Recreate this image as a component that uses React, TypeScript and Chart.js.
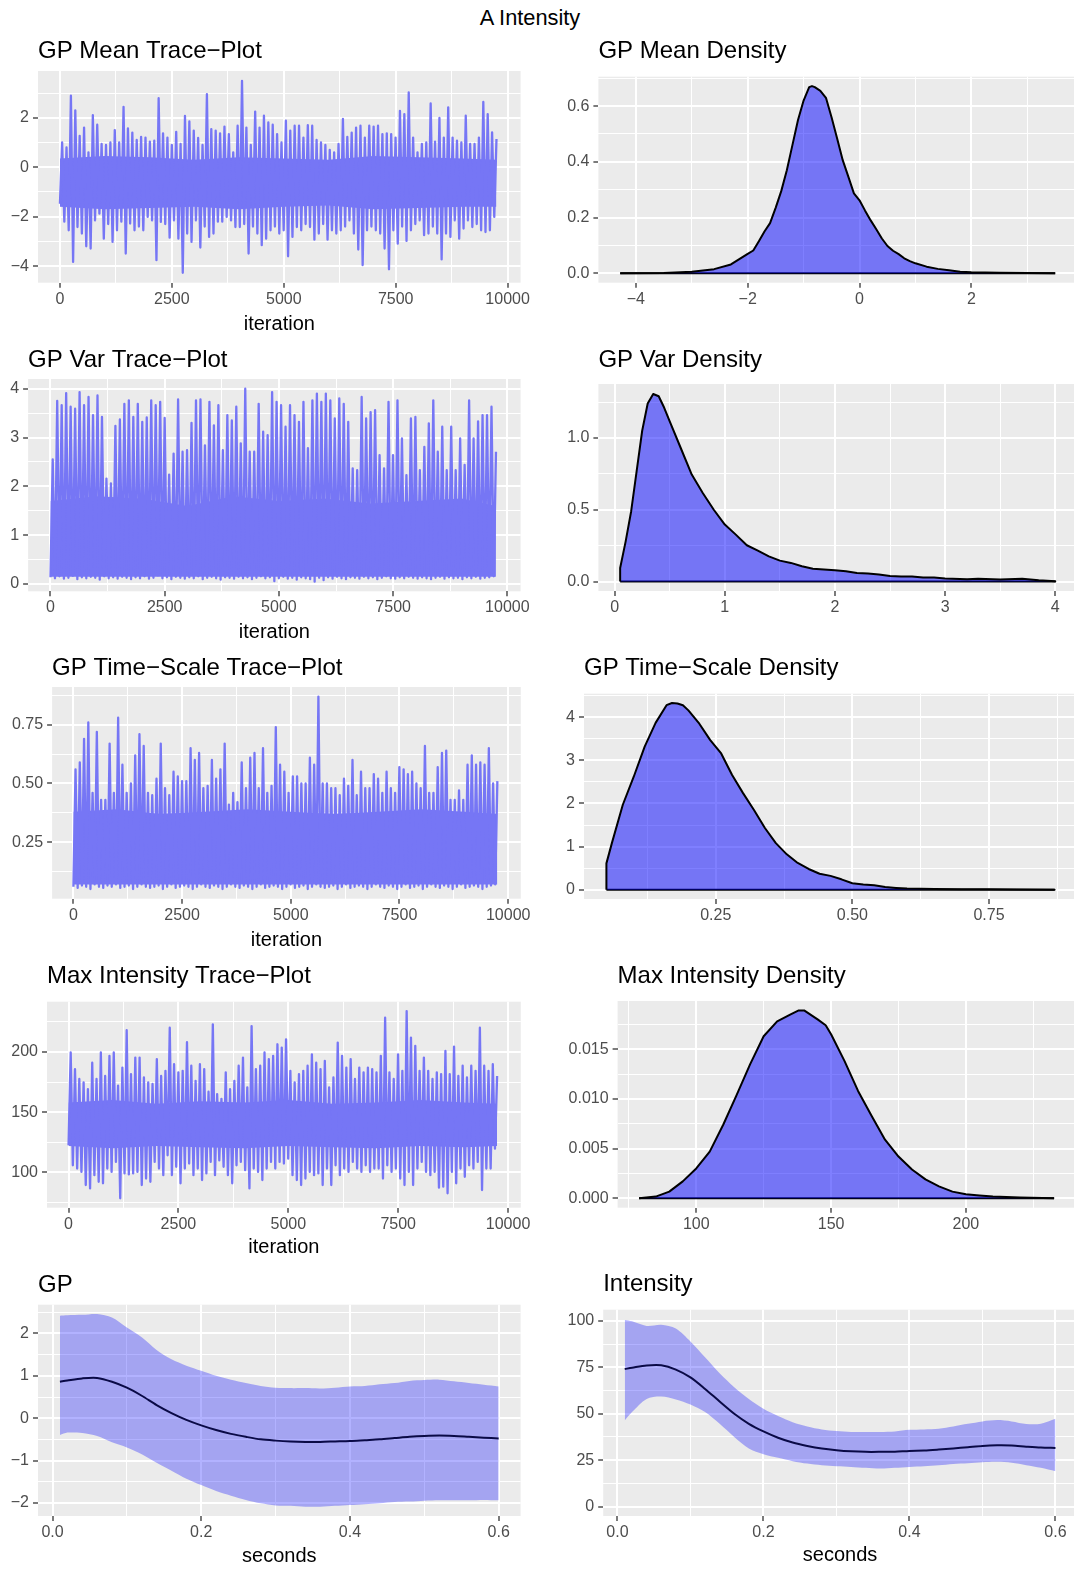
import React, { useEffect, useRef } from "react";
import { Chart, registerables } from "chart.js";

Chart.register(...registerables);

const FONT_FAMILY = '"Liberation Sans", Arial, Helvetica, sans-serif';
const TICK_TEXT = "#4D4D4D";
const PANEL_BG = "#EBEBEB";
const HALF_BLUE = "rgba(0,0,255,0.5)";
const TRACE_BLUE = "#7676F5"; // half-transparent blue as it lands on the grey panel
const RIBBON_BLUE = "rgba(0,0,255,0.3)";
const MEAN_LINE = "#0A0A46";
const MINUS = "\u2212";

// MCMC chains are summarised per window of ITER_STEP iterations: lowest and highest draw.
const ITER_STEP = 98;

const gpMeanHigh = [1.0, 0.8, 2.89, 2.3, 1.27, 1.6, 0.6, 2.1, 1.72, 0.94,
  0.9, 1.0, 1.5, 1.0, 2.44, 1.57, 1.4, 1.1, 1.23, 1.2,
  1.03, 1.07, 2.79, 1.37, 1.2, 0.9, 1.43, 0.94, 2.07, 1.85,
  1.48, 1.18, 0.9, 2.95, 1.54, 1.48, 1.37, 1.64, 1.34, 0.6,
  1.68, 3.49, 1.6, 0.9, 2.25, 1.6, 2.08, 1.81, 1.72, 1.34,
  1.0, 1.88, 1.48, 1.68, 1.68, 1.2, 1.7, 1.68, 1.1, 1.0,
  0.9, 0.7, 0.6, 0.94, 1.95, 1.23, 1.4, 1.6, 1.68, 1.2,
  1.68, 1.64, 1.68, 1.34, 1.37, 1.34, 1.2, 2.28, 2.15, 3.02,
  1.2, 0.6, 0.94, 1.0, 2.58, 1.03, 1.99, 1.2, 2.42, 1.2,
  1.07, 1.0, 2.08, 0.94, 0.94, 1.2, 2.64, 2.15, 1.41, 1.14];
const gpMeanLow = [-1.48, -2.2, -2.55, -3.83, -2.42, -2.68, -3.2, -3.29, -2.15, -1.88,
  -2.89, -2.3, -3.02, -2.55, -2.2, -3.49, -2.28, -2.55, -2.4, -2.55,
  -2.01, -2.15, -3.76, -2.21, -2.3, -2.85, -2.15, -2.89, -4.27, -2.68,
  -3.02, -2.15, -3.25, -2.4, -2.82, -2.68, -2.2, -2.2, -2.01, -2.15,
  -2.42, -2.42, -2.3, -3.49, -2.4, -2.68, -3.15, -2.89, -2.55, -2.4,
  -2.68, -2.55, -3.6, -2.82, -2.42, -2.55, -2.3, -2.42, -2.93, -2.68,
  -2.3, -2.93, -2.55, -2.68, -2.55, -2.4, -2.15, -2.68, -3.33, -3.96,
  -2.55, -2.4, -2.55, -2.68, -3.29, -4.13, -2.55, -3.09, -2.4, -2.98,
  -2.55, -2.3, -2.15, -2.75, -2.68, -2.4, -2.68, -3.73, -2.68, -2.82,
  -2.15, -2.89, -2.48, -2.15, -2.42, -2.3, -2.55, -2.62, -2.55, -2.01];

const gpVarHigh = [2.55, 3.75, 3.66, 3.91, 3.63, 3.59, 3.93, 3.66, 3.83, 3.46,
  3.86, 3.42, 2.16, 2.06, 3.24, 3.37, 3.69, 3.76, 3.42, 3.69,
  3.32, 3.41, 3.76, 3.66, 3.73, 3.4, 2.24, 2.67, 3.78, 2.71,
  2.74, 3.3, 3.76, 3.78, 2.84, 3.73, 3.25, 3.66, 2.74, 3.46,
  3.35, 3.63, 2.88, 4.0, 2.71, 2.71, 3.69, 3.12, 3.05, 3.93,
  3.73, 3.66, 3.22, 3.66, 3.46, 3.32, 3.73, 2.78, 3.76, 3.9,
  3.73, 3.9, 3.76, 3.39, 3.8, 3.69, 3.32, 2.37, 2.33, 3.83,
  3.39, 3.52, 3.56, 2.64, 2.37, 3.73, 2.64, 3.76, 2.98, 2.23,
  3.39, 3.42, 2.33, 2.81, 3.29, 3.76, 2.71, 3.22, 2.33, 3.22,
  2.33, 2.98, 2.44, 3.76, 2.98, 3.33, 3.46, 3.46, 3.63, 2.71];
const gpVarLow = [0.14, 0.12, 0.16, 0.11, 0.13, 0.17, 0.1, 0.14, 0.12, 0.15,
  0.13, 0.09, 0.16, 0.12, 0.14, 0.11, 0.15, 0.13, 0.1, 0.14,
  0.12, 0.16, 0.11, 0.13, 0.18, 0.12, 0.14, 0.1, 0.15, 0.13,
  0.11, 0.14, 0.12, 0.16, 0.1, 0.13, 0.15, 0.12, 0.09, 0.14,
  0.13, 0.11, 0.15, 0.12, 0.14, 0.1, 0.13, 0.16, 0.12, 0.14,
  0.06, 0.12, 0.15, 0.11, 0.13, 0.09, 0.14, 0.12, 0.1, 0.05,
  0.13, 0.08, 0.14, 0.11, 0.15, 0.12, 0.1, 0.14, 0.13, 0.11,
  0.15, 0.12, 0.14, 0.1, 0.13, 0.16, 0.12, 0.11, 0.14, 0.12,
  0.15, 0.13, 0.11, 0.14, 0.12, 0.1, 0.13, 0.15, 0.11, 0.14,
  0.12, 0.13, 0.1, 0.14, 0.12, 0.15, 0.11, 0.13, 0.14, 0.16];

const timeScaleHigh = [0.56, 0.59, 0.69, 0.76, 0.46, 0.72, 0.43, 0.43, 0.67, 0.46,
  0.78, 0.58, 0.46, 0.5, 0.62, 0.71, 0.66, 0.46, 0.45, 0.52,
  0.67, 0.48, 0.45, 0.55, 0.53, 0.51, 0.51, 0.65, 0.6, 0.63,
  0.48, 0.49, 0.6, 0.52, 0.56, 0.67, 0.41, 0.46, 0.42, 0.59,
  0.48, 0.61, 0.63, 0.48, 0.65, 0.46, 0.49, 0.74, 0.58, 0.55,
  0.46, 0.53, 0.53, 0.5, 0.5, 0.61, 0.58, 0.87, 0.5, 0.5,
  0.48, 0.48, 0.45, 0.52, 0.49, 0.6, 0.45, 0.55, 0.48, 0.48,
  0.54, 0.52, 0.46, 0.55, 0.48, 0.46, 0.57, 0.56, 0.54, 0.55,
  0.5, 0.48, 0.66, 0.46, 0.46, 0.57, 0.63, 0.64, 0.43, 0.43,
  0.47, 0.43, 0.58, 0.62, 0.58, 0.59, 0.58, 0.65, 0.5, 0.51];
const timeScaleLow = [0.06, 0.055, 0.065, 0.06, 0.05, 0.07, 0.06, 0.055, 0.065, 0.06,
  0.07, 0.055, 0.06, 0.065, 0.05, 0.06, 0.07, 0.06, 0.055, 0.06,
  0.065, 0.05, 0.06, 0.07, 0.055, 0.06, 0.065, 0.06, 0.05, 0.06,
  0.07, 0.06, 0.055, 0.065, 0.06, 0.05, 0.06, 0.07, 0.06, 0.055,
  0.065, 0.06, 0.05, 0.06, 0.07, 0.055, 0.06, 0.065, 0.06, 0.05,
  0.06, 0.07, 0.055, 0.06, 0.065, 0.05, 0.06, 0.07, 0.06, 0.055,
  0.06, 0.065, 0.05, 0.06, 0.07, 0.055, 0.06, 0.065, 0.06, 0.05,
  0.06, 0.07, 0.06, 0.055, 0.065, 0.06, 0.05, 0.06, 0.07, 0.055,
  0.06, 0.065, 0.05, 0.06, 0.07, 0.06, 0.055, 0.065, 0.06, 0.05,
  0.06, 0.07, 0.055, 0.06, 0.065, 0.06, 0.05, 0.06, 0.065, 0.07];

const maxIntHigh = [199.5, 185.7, 177.5, 174.7, 169, 191, 177.5, 199.5, 180, 196.7,
  199.5, 172, 187, 218, 181.6, 195.3, 195.3, 178.8, 174.7, 173.4,
  194, 180, 184.3, 220, 189.8, 183, 184.3, 208, 188.5, 176,
  189.8, 185.7, 167, 222.8, 165, 161, 183, 169, 176, 188.5,
  195.3, 170.6, 221.4, 185.7, 188.5, 199.5, 194, 196.7, 206.3, 203.6,
  210.4, 184.3, 174.7, 181.6, 184.3, 188.5, 198, 191, 185.7, 192.6,
  170.6, 178.8, 207.7, 196.7, 187, 194, 177.5, 187, 183, 187,
  185.7, 183, 196.7, 228.3, 183, 177.5, 198, 184.3, 233.8, 211.8,
  205, 184.3, 195.3, 184.3, 177.5, 183, 181.6, 200.8, 181.6, 204.4,
  180, 188.5, 178.8, 188.5, 184.3, 220, 188.5, 184.3, 189.8, 180];
const maxIntLow = [122.5, 106, 103.3, 100.5, 89.6, 86.8, 97.8, 92.3, 91, 103.3,
  100.5, 108.8, 78.6, 99.2, 98.4, 99.2, 100.5, 89.6, 95, 92.3,
  108.8, 103.3, 97.8, 114.3, 97.8, 104.7, 91, 103.3, 107.4, 97.8,
  103.3, 93.7, 99.2, 108.8, 97.8, 110, 104.7, 97.8, 91, 106,
  108.8, 101.9, 86.8, 103.3, 100.5, 93.7, 103.3, 108.8, 103.3, 108.8,
  107.4, 111.5, 97.8, 93.7, 89.6, 95, 100.5, 97.8, 99.2, 89.6,
  103.3, 89.6, 106, 97.8, 103.3, 100.5, 108.8, 103.3, 100.5, 106,
  100.5, 103.3, 103.3, 95, 106, 100.5, 103.3, 95, 89.6, 100.5,
  89.6, 103.3, 108.8, 100.5, 97.8, 100.5, 87.4, 88.2, 82.7, 100.5,
  91, 103.3, 96.4, 106, 103.3, 108.8, 85.4, 103.3, 103.3, 119.8];

// Dense central band of each chain (where the draws overlap into a solid body)
const coreIter = [0, 1000, 2000, 3000, 4000, 5000, 6000, 7000, 8000, 9000, 9750];
const gpMeanCoreHigh = [0.35, 0.45, 0.4, 0.3, 0.4, 0.35, 0.3, 0.45, 0.4, 0.35, 0.3];
const gpMeanCoreLow = [-1.6, -1.7, -1.65, -1.6, -1.7, -1.6, -1.55, -1.7, -1.65, -1.6, -1.6];
const gpVarCoreHigh = [1.7, 1.8, 1.75, 1.6, 1.8, 1.7, 1.75, 1.65, 1.7, 1.75, 1.6];
const gpVarCoreLow = [0.15, 0.15, 0.15, 0.15, 0.15, 0.15, 0.15, 0.15, 0.15, 0.15, 0.15];
const timeScaleCoreHigh = [0.38, 0.39, 0.37, 0.38, 0.39, 0.38, 0.37, 0.38, 0.39, 0.38, 0.37];
const timeScaleCoreLow = [0.07, 0.07, 0.07, 0.07, 0.07, 0.07, 0.07, 0.07, 0.07, 0.07, 0.07];
const maxIntCoreHigh = [158, 160, 157, 159, 158, 160, 157, 158, 160, 158, 157];
const maxIntCoreLow = [122, 120, 122, 121, 120, 122, 121, 120, 122, 121, 122];

// Kernel density estimates of the posterior draws
const gpMeanDensX = [-4.28, -3.5, -3.0, -2.6, -2.3, -2.0, -1.9, -1.8, -1.7, -1.6,
  -1.5, -1.4, -1.3, -1.2, -1.1, -1.0, -0.9, -0.85, -0.8, -0.7,
  -0.6, -0.5, -0.4, -0.3, -0.2, -0.1, 0.0, 0.1, 0.2, 0.3,
  0.4, 0.5, 0.6, 0.7, 0.8, 0.9, 1.0, 1.2, 1.4, 1.6,
  1.8, 2.0, 2.5, 3.0, 3.5];
const gpMeanDensY = [0, 0.001, 0.006, 0.015, 0.032, 0.07, 0.082, 0.115, 0.15, 0.18,
  0.235, 0.295, 0.37, 0.46, 0.55, 0.62, 0.668, 0.672, 0.668, 0.655,
  0.63, 0.56, 0.484, 0.406, 0.347, 0.287, 0.262, 0.225, 0.19, 0.158,
  0.125, 0.098, 0.081, 0.069, 0.054, 0.044, 0.036, 0.024, 0.016, 0.011,
  0.006, 0.004, 0.0025, 0.001, 0];

const gpVarDensX = [0.05, 0.1, 0.15, 0.2, 0.25, 0.3, 0.35, 0.4, 0.45, 0.5,
  0.6, 0.7, 0.8, 0.9, 1.0, 1.1, 1.2, 1.3, 1.4, 1.5,
  1.6, 1.7, 1.8, 1.9, 2.0, 2.1, 2.2, 2.3, 2.4, 2.5,
  2.6, 2.7, 2.8, 2.9, 3.0, 3.2, 3.3, 3.5, 3.7, 3.85, 4.0];
const gpVarDensY = [0.095, 0.28, 0.49, 0.77, 1.05, 1.24, 1.306, 1.29, 1.21, 1.116,
  0.93, 0.745, 0.617, 0.5, 0.397, 0.327, 0.253, 0.216, 0.176, 0.146,
  0.13, 0.107, 0.09, 0.084, 0.079, 0.072, 0.06, 0.056, 0.049, 0.039,
  0.035, 0.035, 0.028, 0.028, 0.021, 0.016, 0.02, 0.014, 0.019, 0.009, 0.002];

const timeScaleDensX = [0.05, 0.06, 0.08, 0.1, 0.12, 0.14, 0.16, 0.17, 0.18, 0.19,
  0.2, 0.22, 0.24, 0.26, 0.28, 0.3, 0.32, 0.34, 0.36, 0.38,
  0.4, 0.42, 0.44, 0.46, 0.48, 0.5, 0.52, 0.54, 0.56, 0.58,
  0.6, 0.65, 0.7, 0.75, 0.8, 0.87];
const timeScaleDensY = [0.61, 1.08, 1.97, 2.62, 3.32, 3.87, 4.28, 4.33, 4.32, 4.28,
  4.16, 3.85, 3.47, 3.16, 2.66, 2.24, 1.85, 1.43, 1.08, 0.82,
  0.62, 0.48, 0.37, 0.32, 0.24, 0.15, 0.12, 0.1, 0.06, 0.04,
  0.025, 0.015, 0.01, 0.008, 0.005, 0.001];

const maxIntDensX = [78.8, 85, 90, 95, 100, 105, 110, 115, 120, 125,
  130, 135, 138, 140, 145, 148, 150, 155, 160, 165,
  170, 175, 180, 185, 190, 195, 200, 205, 210, 220, 232.7];
const maxIntDensY = [0, 0.00017, 0.00067, 0.0017, 0.003, 0.0047, 0.0074, 0.0104, 0.0135, 0.0163,
  0.0178, 0.0185, 0.0189, 0.0189, 0.018, 0.0174, 0.0165, 0.0138, 0.0108, 0.0083,
  0.0059, 0.0042, 0.0029, 0.0019, 0.0012, 0.00067, 0.0004, 0.00027, 0.00017, 0.00007, 0];

// Posterior summaries over time (seconds)
const seconds = [0.01, 0.02, 0.04, 0.06, 0.08, 0.1, 0.12, 0.14, 0.16, 0.18,
  0.2, 0.22, 0.24, 0.26, 0.28, 0.3, 0.32, 0.34, 0.36, 0.38,
  0.4, 0.42, 0.44, 0.46, 0.48, 0.5, 0.52, 0.54, 0.56, 0.58, 0.6];
const gpUpper = [2.42, 2.43, 2.44, 2.46, 2.38, 2.14, 1.91, 1.61, 1.39, 1.24,
  1.12, 1.0, 0.91, 0.83, 0.76, 0.72, 0.71, 0.71, 0.7, 0.72,
  0.75, 0.76, 0.8, 0.83, 0.88, 0.9, 0.91, 0.87, 0.83, 0.79, 0.75];
const gpLower = [-0.4, -0.34, -0.35, -0.42, -0.57, -0.69, -0.85, -1.05, -1.24, -1.43,
  -1.58, -1.72, -1.83, -1.93, -2.01, -2.06, -2.07, -2.09, -2.09, -2.07,
  -2.05, -2.03, -2.01, -1.98, -1.97, -1.95, -1.94, -1.94, -1.94, -1.93, -1.94];
const gpMean = [0.86, 0.89, 0.94, 0.95, 0.86, 0.72, 0.53, 0.31, 0.12, -0.04,
  -0.17, -0.28, -0.37, -0.44, -0.5, -0.53, -0.55, -0.56, -0.56, -0.55,
  -0.54, -0.52, -0.5, -0.47, -0.44, -0.42, -0.41, -0.42, -0.44, -0.46, -0.48];
const intensityUpper = [100.5, 99.8, 97.3, 97.9, 95.9, 88.9, 80.4, 71.8, 64.3, 58.0,
  52.7, 48.8, 45.5, 43.2, 41.6, 40.7, 40.2, 40.2, 40.2, 40.5,
  41.4, 41.6, 42.0, 43.2, 44.6, 45.9, 46.6, 45.9, 44.5, 44.6, 47.3];
const intensityLower = [46.4, 50.9, 58.0, 59.3, 57.7, 55.0, 50.9, 44.6, 37.5, 31.3,
  28.2, 26.3, 24.5, 23.2, 22.3, 21.8, 21.4, 20.9, 20.5, 20.9,
  21.4, 21.8, 22.3, 23.0, 23.4, 23.9, 24.1, 23.6, 22.3, 20.9, 19.1];
const intensityMean = [74.1, 74.8, 76.0, 76.1, 73.8, 69.6, 63.4, 56.6, 50.0, 44.6,
  40.5, 37.1, 34.5, 32.7, 31.3, 30.4, 29.8, 29.5, 29.5, 29.6,
  30.0, 30.2, 30.7, 31.3, 32.0, 32.7, 33.0, 32.9, 32.3, 31.8, 31.6];

// Axis breaks
const iterBreaks = [0, 2500, 5000, 7500, 10000];
const iterMinor = [1250, 3750, 6250, 8750];
const secondsBreaks = [0, 0.2, 0.4, 0.6];
const secondsMinor = [0.1, 0.3, 0.5];

// ---------- helpers ----------
type Pt = { x: number; y: number };
const fmt = (digits: number) => (v: number) => (v < 0 ? MINUS : "") + Math.abs(v).toFixed(digits);

function tracePoints(lows: number[], highs: number[]): Pt[] {
  const pts: Pt[] = [];
  lows.forEach((lo, i) => {
    pts.push({ x: i * ITER_STEP, y: lo });
    pts.push({ x: i * ITER_STEP + ITER_STEP / 2, y: highs[i] });
  });
  return pts;
}

function zip(xs: number[], ys: number[]): Pt[] {
  return xs.map((x, i) => ({ x, y: ys[i] }));
}

function traceDatasets(lows: number[], highs: number[], coreLow: number[], coreHigh: number[]) {
  return [
    {
      data: tracePoints(lows, highs),
      borderColor: TRACE_BLUE,
      borderWidth: 2.3,
      borderJoinStyle: "round",
      pointRadius: 0,
      tension: 0,
      fill: false,
    },
    {
      data: zip(coreIter, coreHigh),
      borderColor: "rgba(0,0,0,0)",
      borderWidth: 0,
      backgroundColor: TRACE_BLUE,
      pointRadius: 0,
      tension: 0,
      fill: "+1",
    },
    {
      data: zip(coreIter, coreLow),
      borderColor: "rgba(0,0,0,0)",
      borderWidth: 0,
      pointRadius: 0,
      tension: 0,
      fill: false,
    },
  ];
}

function densityDatasets(xs: number[], ys: number[]) {
  const first = xs[0];
  const last = xs[xs.length - 1];
  return [
    {
      data: [{ x: first, y: 0 }, ...zip(xs, ys), { x: last, y: 0 }],
      borderColor: "#000000",
      borderWidth: 2,
      borderJoinStyle: "round",
      backgroundColor: HALF_BLUE,
      fill: "origin",
      pointRadius: 0,
      tension: 0,
    },
    {
      data: [{ x: first, y: 0 }, { x: last, y: 0 }],
      borderColor: "#000000",
      borderWidth: 2,
      pointRadius: 0,
      fill: false,
    },
  ];
}

function ribbonDatasets(mean: number[], upper: number[], lower: number[]) {
  return [
    {
      data: zip(seconds, mean),
      borderColor: MEAN_LINE,
      borderWidth: 2,
      pointRadius: 0,
      tension: 0.3,
      fill: false,
    },
    {
      data: zip(seconds, upper),
      borderWidth: 0,
      borderColor: "rgba(0,0,0,0)",
      backgroundColor: RIBBON_BLUE,
      pointRadius: 0,
      tension: 0.3,
      fill: "+1",
    },
    {
      data: zip(seconds, lower),
      borderWidth: 0,
      borderColor: "rgba(0,0,0,0)",
      pointRadius: 0,
      tension: 0.3,
      fill: false,
    },
  ];
}

type AxisSpec = { min: number; max: number; major: number[]; minor: number[]; format: (v: number) => string };
type PanelSpec = {
  id: string;
  title: string;
  titleY: number;
  xTitle?: string;
  xTitleY?: number;
  column: 0 | 1;
  area: [number, number, number, number];
  x: AxisSpec;
  y: AxisSpec;
  datasets: any[];
};

const AXIS_H = 40;

function scaleOptions(axis: AxisSpec, horizontal: boolean, size: number) {
  const all = [
    ...axis.major.map((v) => ({ value: v, mn: false })),
    ...axis.minor.map((v) => ({ value: v, mn: true })),
  ].sort((a, b) => a.value - b.value);
  return {
    type: "linear",
    position: horizontal ? "bottom" : "left",
    min: axis.min,
    max: axis.max,
    bounds: "data",
    afterBuildTicks: (s: any) => {
      s.ticks = all.map((t) => ({ ...t }));
    },
    afterFit: (s: any) => {
      if (horizontal) s.height = size;
      else s.width = size;
    },
    border: { display: false },
    grid: {
      display: true,
      drawOnChartArea: true,
      drawTicks: true,
      color: "#FFFFFF",
      lineWidth: (c: any) => (c.tick && c.tick.mn ? 1 : 2),
      tickColor: (c: any) => (c.tick && c.tick.mn ? "rgba(0,0,0,0)" : "#333333"),
      tickLength: 5,
      tickWidth: 1.3,
    },
    ticks: {
      autoSkip: false,
      maxRotation: 0,
      minRotation: 0,
      padding: horizontal ? 2 : 4,
      color: TICK_TEXT,
      font: { family: FONT_FAMILY, size: 16 },
      callback: (v: any, i: number, arr: any[]) => (arr[i] && arr[i].mn ? "" : axis.format(Number(v))),
    },
  };
}

const panelDecor = {
  id: "panelDecor",
  beforeDraw(chart: any) {
    const { ctx, chartArea: a } = chart;
    ctx.save();
    ctx.fillStyle = PANEL_BG;
    ctx.fillRect(a.left, a.top, a.right - a.left, a.bottom - a.top);
    ctx.restore();
  },
  afterDraw(chart: any, _args: any, opts: any) {
    const { ctx, chartArea: a } = chart;
    ctx.save();
    ctx.fillStyle = "#000000";
    ctx.textBaseline = "alphabetic";
    ctx.textAlign = "left";
    ctx.font = `24px ${FONT_FAMILY}`;
    ctx.fillText(opts.title, a.left, opts.titleY);
    if (opts.xTitle) {
      ctx.font = `20px ${FONT_FAMILY}`;
      ctx.textAlign = "center";
      ctx.fillText(opts.xTitle, (a.left + a.right) / 2, opts.xTitleY);
    }
    ctx.restore();
  },
};

function PanelChart({ spec }: { spec: PanelSpec }) {
  const ref = useRef<HTMLCanvasElement | null>(null);
  const [L, T, R, B] = spec.area;
  const X0 = spec.column === 0 ? 0 : 537;
  const W = spec.column === 0 ? 537 : 550;
  const Y0 = Math.round(T - 58);
  const H = Math.round(B + 56) - Y0;

  useEffect(() => {
    if (!ref.current) return;
    const chart = new Chart(ref.current, {
      type: "line",
      data: { datasets: spec.datasets },
      options: {
        responsive: false,
        animation: false,
        devicePixelRatio: 1,
        events: [],
        layout: {
          autoPadding: false,
          padding: {
            left: 0,
            top: T - Y0,
            right: X0 + W - R,
            bottom: Y0 + H - B - AXIS_H,
          },
        },
        plugins: {
          legend: { display: false },
          tooltip: { enabled: false },
          title: { display: false },
          panelDecor: {
            title: spec.title,
            titleY: spec.titleY - Y0,
            xTitle: spec.xTitle || "",
            xTitleY: (spec.xTitleY || 0) - Y0,
          },
        },
        scales: {
          x: scaleOptions(spec.x, true, AXIS_H),
          y: scaleOptions(spec.y, false, L - X0),
        },
      } as any,
      plugins: [panelDecor as any],
    });
    return () => chart.destroy();
  }, [spec]);

  return (
    <canvas
      ref={ref}
      width={W}
      height={H}
      style={{ position: "absolute", left: X0, top: Y0, width: W, height: H }}
    />
  );
}

const iterAxis: AxisSpec = { min: -490, max: 10290, major: iterBreaks, minor: iterMinor, format: fmt(0) };
const secondsAxis: AxisSpec = { min: -0.0195, max: 0.6295, major: secondsBreaks, minor: secondsMinor, format: fmt(1) };

const PANELS: PanelSpec[] = [
  {
    id: "meanTrace", title: "GP Mean Trace\u2212Plot", titleY: 58.3, xTitle: "iteration", xTitleY: 329.5,
    column: 0, area: [38, 71, 520.6, 282.7],
    x: iterAxis,
    y: { min: -4.67, max: 3.89, major: [-4, -2, 0, 2], minor: [-3, -1, 1, 3], format: fmt(0) },
    datasets: traceDatasets(gpMeanLow, gpMeanHigh, gpMeanCoreLow, gpMeanCoreHigh),
  },
  {
    id: "meanDens", title: "GP Mean Density", titleY: 58.3,
    column: 1, area: [598.4, 76.7, 1077, 282.7],
    x: { min: -4.67, max: 3.89, major: [-4, -2, 0, 2], minor: [-3, -1, 1, 3], format: fmt(0) },
    y: { min: -0.0336, max: 0.7056, major: [0, 0.2, 0.4, 0.6], minor: [0.1, 0.3, 0.5, 0.7], format: fmt(1) },
    datasets: densityDatasets(gpMeanDensX, gpMeanDensY),
  },
  {
    id: "varTrace", title: "GP Var Trace\u2212Plot", titleY: 367.3, xTitle: "iteration", xTitleY: 637.5,
    column: 0, area: [28.1, 379, 520.6, 591.3],
    x: iterAxis,
    y: { min: -0.1475, max: 4.1975, major: [0, 1, 2, 3, 4], minor: [0.5, 1.5, 2.5, 3.5], format: fmt(0) },
    datasets: traceDatasets(gpVarLow, gpVarHigh, gpVarCoreLow, gpVarCoreHigh),
  },
  {
    id: "varDens", title: "GP Var Density", titleY: 367.3,
    column: 1, area: [598.4, 384, 1077, 591],
    x: { min: -0.1475, max: 4.1975, major: [0, 1, 2, 3, 4], minor: [0.5, 1.5, 2.5, 3.5], format: fmt(0) },
    y: { min: -0.0655, max: 1.3755, major: [0, 0.5, 1.0], minor: [0.25, 0.75, 1.25], format: fmt(1) },
    datasets: densityDatasets(gpVarDensX, gpVarDensY),
  },
  {
    id: "tsTrace", title: "GP Time\u2212Scale Trace\u2212Plot", titleY: 675.3, xTitle: "iteration", xTitleY: 945.5,
    column: 0, area: [52.1, 687, 520.8, 898.7],
    x: iterAxis,
    y: { min: 0.009, max: 0.911, major: [0.25, 0.5, 0.75], minor: [0.125, 0.375, 0.625, 0.875], format: fmt(2) },
    datasets: traceDatasets(timeScaleLow, timeScaleHigh, timeScaleCoreLow, timeScaleCoreHigh),
  },
  {
    id: "tsDens", title: "GP Time\u2212Scale Density", titleY: 675.3,
    column: 1, area: [584, 693.7, 1077, 899],
    x: { min: 0.009, max: 0.911, major: [0.25, 0.5, 0.75], minor: [0.125, 0.375, 0.625, 0.875], format: fmt(2) },
    y: { min: -0.2165, max: 4.5465, major: [0, 1, 2, 3, 4], minor: [0.5, 1.5, 2.5, 3.5, 4.5], format: fmt(0) },
    datasets: densityDatasets(timeScaleDensX, timeScaleDensY),
  },
  {
    id: "miTrace", title: "Max Intensity Trace\u2212Plot", titleY: 983.3, xTitle: "iteration", xTitleY: 1253.3,
    column: 0, area: [47, 1001.7, 520.8, 1207.7],
    x: iterAxis,
    y: { min: 70.8, max: 241.6, major: [100, 150, 200], minor: [75, 125, 175, 225], format: fmt(0) },
    datasets: traceDatasets(maxIntLow, maxIntHigh, maxIntCoreLow, maxIntCoreHigh),
  },
  {
    id: "miDens", title: "Max Intensity Density", titleY: 983.3,
    column: 1, area: [617.6, 1001, 1078, 1207.7],
    x: { min: 70.84, max: 241.56, major: [100, 150, 200], minor: [75, 125, 175, 225], format: fmt(0) },
    y: { min: -0.000945, max: 0.019845, major: [0, 0.005, 0.01, 0.015], minor: [0.0025, 0.0075, 0.0125, 0.0175], format: fmt(3) },
    datasets: densityDatasets(maxIntDensX, maxIntDensY),
  },
  {
    id: "gp", title: "GP", titleY: 1292, xTitle: "seconds", xTitleY: 1561.5,
    column: 0, area: [38, 1304.7, 520.6, 1516],
    x: secondsAxis,
    y: { min: -2.31, max: 2.68, major: [-2, -1, 0, 1, 2], minor: [-1.5, -0.5, 0.5, 1.5, 2.5], format: fmt(0) },
    datasets: ribbonDatasets(gpMean, gpUpper, gpLower),
  },
  {
    id: "intensity", title: "Intensity", titleY: 1291.3, xTitle: "seconds", xTitleY: 1560.5,
    column: 1, area: [603.2, 1309.7, 1077, 1516],
    x: secondsAxis,
    y: { min: -5.05, max: 106.05, major: [0, 25, 50, 75, 100], minor: [12.5, 37.5, 62.5, 87.5], format: fmt(0) },
    datasets: ribbonDatasets(intensityMean, intensityUpper, intensityLower),
  },
];

export default function App() {
  return (
    <div
      style={{
        position: "absolute",
        left: 0,
        top: 0,
        width: 1074,
        height: 1569,
        overflow: "hidden",
        background: "#FFFFFF",
      }}
    >
      <div
        style={{
          position: "absolute",
          left: 0,
          top: 6.6,
          width: 1060,
          textAlign: "center",
          fontFamily: FONT_FAMILY,
          fontSize: "21.8px",
          lineHeight: "21.8px",
          color: "#000000",
          whiteSpace: "nowrap",
        }}
      >
        A Intensity
      </div>
      {PANELS.map((p) => (
        <PanelChart key={p.id} spec={p} />
      ))}
    </div>
  );
}
